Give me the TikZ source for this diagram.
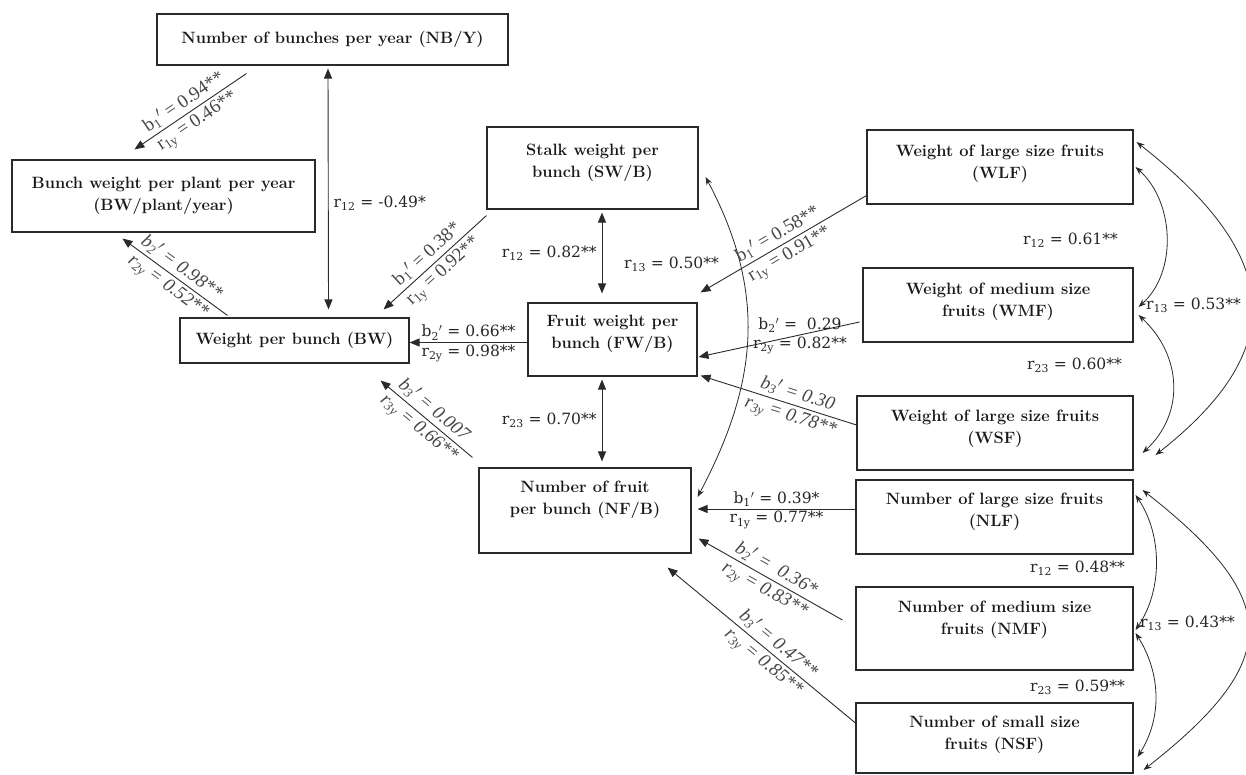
\documentclass[tikz,border=0pt]{standalone}
\usepackage{fontspec}
\newfontfamily\labfont{DejaVu Serif}
\newfontfamily\slabfont{Liberation Serif}
\usetikzlibrary{arrows.meta,calc}
\definecolor{ln}{HTML}{2A2A2A}
\newcommand\bc[3]{\parbox[c][#2][c]{#1}{\centering #3}}
\newcommand\bt[4]{\parbox[c][#2][t]{#1}{\centering\vspace*{#3}#4}}
\newcommand\Bl[2]{b\textsubscript{#1}$'$ = #2}
\newcommand\Rl[2]{r\textsubscript{#1} = #2}
\tikzset{
  box/.style={draw=ln, line width=1.1pt, inner sep=0pt, font=\fontsize{16.4}{21.5}\bfseries\selectfont, text=black!90},
  arr/.style={draw=ln, line width=0.9pt, -{Triangle[length=10pt,width=8pt]}},
  darr/.style={draw=ln, line width=0.9pt, {Triangle[length=10pt,width=8pt]}-{Triangle[length=10pt,width=8pt]}},
  carr/.style={draw=ln, line width=0.8pt, {Stealth[length=8pt,width=6pt]}-{Stealth[length=8pt,width=6pt]}},
  lab/.style={font=\labfont\fontsize{15.5}{17}\selectfont, text=black!85, inner sep=2pt},
  slab/.style={font=\slabfont\fontsize{19}{21}\selectfont, text=black!72, inner sep=3.2pt, sloped},
  ilab/.style={slab, font=\slabfont\fontsize{19}{21}\itshape\selectfont},
}
\begin{document}
\begin{tikzpicture}[x=1pt,y=-1pt]
\useasboundingbox (0,0) rectangle (1246,775);
% boxes
\node[box] (nby) at (332.5,39.5) {\bc{351pt}{51pt}{Number of bunches per year (NB/Y)}};
\node[box] (bwp) at (163.5,196) {\bc{303pt}{72pt}{Bunch weight per plant per year\\(BW/plant/year)}};
\node[box] (bw) at (294.5,340.5) {\bc{229pt}{45pt}{Weight per bunch (BW)}};
\node[box] (swb) at (592.5,168) {\bt{211pt}{82pt}{17.5pt}{Stalk weight per\\bunch (SW/B)}};
\node[box] (fwb) at (612.5,339.5) {\bt{169pt}{73pt}{12.5pt}{Fruit weight per\\bunch (FW/B)}};
\node[box] (nfb) at (585,510.5) {\bt{212pt}{85pt}{13.5pt}{Number of fruit\\per bunch (NF/B)}};
\node[box] (wlf) at (1000,167) {\bt{266pt}{74pt}{15.5pt}{Weight of large size fruits\\(WLF)}};
\node[box] (wmf) at (998,305) {\bt{270pt}{74pt}{15.5pt}{Weight of medium size\\fruits (WMF)}};
\node[box] (wsf) at (995,433) {\bt{276pt}{74pt}{14.5pt}{Weight of large size fruits\\(WSF)}};
\node[box] (nlf) at (994.5,517) {\bt{277pt}{74pt}{13.5pt}{Number of large size fruits\\(NLF)}};
\node[box] (nmf) at (994.5,628.5) {\bt{277pt}{83pt}{14.5pt}{Number of medium size\\fruits (NMF)}};
\node[box] (nsf) at (994.5,738) {\bt{277pt}{70pt}{13.5pt}{Number of small size\\fruits (NSF)}};

% left part
\draw[arr] ([xshift=90pt,yshift=-8pt]nby.south west) -- node[slab,above]{\Bl{1}{0.94**}} node[slab,below]{\Rl{1y}{0.46**}} ([xshift=123pt,yshift=10pt]bwp.north west);
\draw[arr] ([xshift=48pt,yshift=2pt]bw.north west) -- node[ilab,above]{\Bl{2}{0.98**}} node[ilab,below]{\Rl{2y}{0.52**}} ([xshift=111pt,yshift=-6pt]bwp.south west);
\draw[darr] ([xshift=-4.5pt,yshift=-3pt]nby.south) -- node[lab,right,pos=0.56,xshift=3pt]{\Rl{12}{-0.49*}} ([xshift=34pt,yshift=8pt]bw.north);
\draw[arr] ([yshift=-6pt]swb.south west) -- node[slab,above]{\Bl{1}{0.38*}} node[slab,below]{\Rl{1y}{0.92**}} ([xshift=-26pt,yshift=8pt]bw.north east);
\draw[arr] ([yshift=-3pt]fwb.west) -- node[lab,above]{\Bl{2}{0.66**}} node[lab,below]{\Rl{2y}{0.98**}} ([yshift=-2pt]bw.east);
\draw[arr] ([xshift=-6pt,yshift=10pt]nfb.north west) -- node[ilab,above]{\Bl{3}{0.007}} node[ilab,below]{\Rl{3y}{0.66**}} ([xshift=-29pt,yshift=-17pt]bw.south east);

% middle column
\draw[darr] ([xshift=9.5pt,yshift=-3pt]swb.south) -- node[lab,left,xshift=-3pt]{\Rl{12}{0.82**}} ([xshift=-10.5pt,yshift=9pt]fwb.north);
\draw[darr] ([xshift=-10.5pt,yshift=-3pt]fwb.south) -- node[lab,left,xshift=-3pt]{\Rl{23}{0.70**}} ([xshift=17pt,yshift=6pt]nfb.north);
\draw[carr] ([xshift=7pt,yshift=-9pt]swb.east) .. controls +(61,115) and +(61,-115) .. ([xshift=6pt,yshift=13.5pt]nfb.east);
\node[lab,anchor=west] (l0) at (622,264) {\Rl{13}{0.50**}};

% weight group
\draw[arr] ([yshift=9pt]wlf.south west) -- node[slab,above]{\Bl{1}{0.58**}} node[slab,below]{\Rl{1y}{0.91**}} ([xshift=3pt,yshift=10pt]fwb.north east);
\draw[arr] ([xshift=-3pt,yshift=-17pt]wmf.west) -- node[lab,above,pos=0.37]{\Bl{2}{~0.29}} node[lab,below,pos=0.37]{\Rl{2y}{0.82**}} ([xshift=1pt,yshift=-17.5pt]fwb.east);
\draw[arr] ([yshift=8pt]wsf.west) -- node[ilab,above,pos=0.4]{\Bl{3}{0.30}} node[ilab,below,pos=0.4]{\Rl{3y}{0.78**}} ([xshift=3pt,yshift=1pt]fwb.south east);
\draw[carr] ([xshift=2pt]wlf.east) .. controls +(39,35) and +(39,-35) .. ([xshift=5pt,yshift=-2pt]wmf.east);
\draw[carr] ([xshift=5pt,yshift=-10pt]wmf.east) .. controls +(43,40) and +(43,-40) .. ([xshift=9pt,yshift=-20pt]wsf.east);
\draw[carr] ([xshift=3pt,yshift=25pt]wlf.east) .. controls +(140,110) and +(140,-110) .. ([xshift=22pt,yshift=-22pt]wsf.east);
\node[lab,anchor=east] (l1) at (1120,240) {\Rl{12}{0.61**}};
\node[lab,anchor=east] (l2) at (1124,365) {\Rl{23}{0.60**}};
\node[lab,anchor=west] (l3) at (1144,305) {\Rl{13}{0.53**}};

% number group
\draw[arr] ([yshift=8pt]nlf.west) -- node[lab,above]{\Bl{1}{0.39*}} node[lab,below]{\Rl{1y}{0.77**}} ([xshift=6pt,yshift=1.5pt]nfb.east);
\draw[arr] ([xshift=-13pt,yshift=8.5pt]nmf.west) -- node[ilab,above]{\Bl{2}{~0.36*}} node[ilab,below]{\Rl{2y}{0.83**}} ([xshift=7pt,yshift=15pt]nfb.south east);
\draw[arr] ([yshift=15pt]nsf.west) -- node[ilab,above,pos=0.45]{\Bl{3}{0.47**}} node[ilab,below,pos=0.45]{\Rl{3y}{0.85**}} ([xshift=-24pt,yshift=-14pt]nfb.south east);
\draw[carr] ([xshift=2pt,yshift=22pt]nlf.east) .. controls +(27,40) and +(27,-40) .. ([xshift=2pt,yshift=-1.5pt]nmf.east);
\draw[carr] ([xshift=2pt,yshift=-4.5pt]nmf.east) .. controls +(25,40) and +(25,-40) .. ([xshift=4pt,yshift=-19pt]nsf.east);
\draw[carr] ([xshift=9pt,yshift=27pt]nlf.east) .. controls +(140,110) and +(140,-110) .. ([xshift=10pt,yshift=-32pt]nsf.east);
\node[lab,anchor=east] (l4) at (1127,568) {\Rl{12}{0.48**}};
\node[lab,anchor=east] (l5) at (1127,687) {\Rl{23}{0.59**}};
\node[lab,anchor=west] (l6) at (1138,623) {\Rl{13}{0.43**}};
\end{tikzpicture}
\end{document}
